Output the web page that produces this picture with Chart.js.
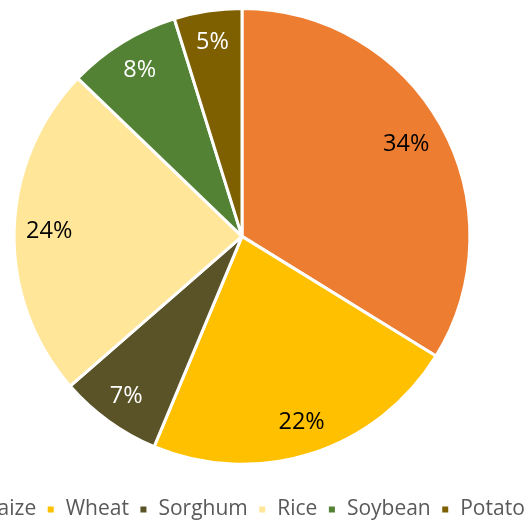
<!DOCTYPE html>
<html>
<head>
<meta charset="utf-8">
<script src="https://cdn.jsdelivr.net/npm/chart.js@4.4.1/dist/chart.umd.min.js"></script>
<style>
html,body{margin:0;padding:0;background:#fff;overflow:hidden;width:525px;height:520px;}
#wrap{position:absolute;left:-68px;top:0;width:620px;height:530px;}
</style>
</head>
<body>
<div id="wrap"><canvas id="c"></canvas></div>
<script>
const categories = ["Maize","Wheat","Sorghum","Rice","Soybean","Potato"];
const shares = [33.8,22.5,7.3,23.6,8.0,4.8];
const labelTexts = ["34%","22%","7%","24%","8%","5%"];
const sliceColors = ["#ED7D31","#FFC000","#5B5328","#FFE699","#548235","#7F6000"];
const labelColors = ["#000000","#000000","#ffffff","#000000","#ffffff","#ffffff"];
const labelRadius = [0.825,0.855,0.868,0.846,0.855,0.863];

const labelPlugin = {
  id:'sliceLabels',
  afterDatasetsDraw(chart){
    const ctx = chart.ctx;
    const meta = chart.getDatasetMeta(0);
    ctx.save();
    ctx.font = '23.5px "Open Sans"';
    ctx.textAlign='center';
    ctx.textBaseline='middle';
    meta.data.forEach((arc,i)=>{
      const p = arc.getProps(['x','y','startAngle','endAngle','outerRadius'],true);
      const mid = (p.startAngle+p.endAngle)/2;
      const r = p.outerRadius*labelRadius[i];
      ctx.fillStyle = labelColors[i];
      ctx.fillText(labelTexts[i], p.x+Math.cos(mid)*r, p.y+Math.sin(mid)*r);
    });
    ctx.restore();
  }
};

new Chart(document.getElementById('c'),{
  type:'pie',
  data:{labels:categories,datasets:[{data:shares,backgroundColor:sliceColors,borderColor:'#ffffff',borderWidth:3}]},
  options:{
    responsive:true,maintainAspectRatio:false,animation:false,
    layout:{padding:{top:7,bottom:0}},
    plugins:{
      tooltip:{enabled:false},
      legend:{
        position:'bottom',
        title:{display:true,text:' ',font:{size:1},padding:{top:22,bottom:0}},
        labels:{boxWidth:9,boxHeight:9,padding:10,color:'#595959',font:{family:'"Open Sans"',size:21}}
      }
    }
  },
  plugins:[labelPlugin]
});
</script>
</body>
</html>
